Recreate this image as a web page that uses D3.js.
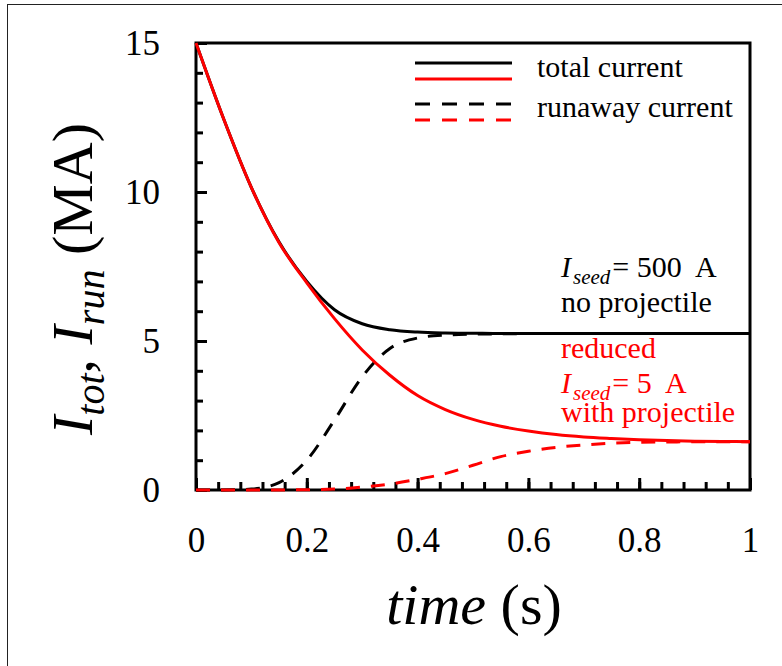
<!DOCTYPE html>
<html>
<head>
<meta charset="utf-8">
<script src="https://cdn.jsdelivr.net/npm/d3@7"></script>
<style>
  body { margin: 0; background: #fff; }
  svg { display: block; }
  text { font-family: "Liberation Serif", "Times New Roman", serif; }
</style>
</head>
<body>
<svg id="chart"></svg>
<script>
const width = 782, height = 666;
const margin = {top: 43, bottom: 176, left: 196, right: 32};
const serif = "Liberation Serif";

// time axis (s)
const time = [0, 0.05, 0.1, 0.15, 0.2, 0.25, 0.3, 0.35, 0.4, 0.45, 0.5,
              0.55, 0.6, 0.65, 0.7, 0.75, 0.8, 0.85, 0.9, 0.95, 1];
// I_seed = 500 A, no projectile (MA)
const totalNoProj = [15, 12.45, 10.15, 8.32, 7.0, 6.05, 5.58, 5.38, 5.3, 5.27, 5.26,
                     5.25, 5.25, 5.25, 5.25, 5.25, 5.25, 5.25, 5.25, 5.25, 5.25];
const runawayNoProj = [0, 0, 0.03, 0.25, 1.0, 2.35, 3.8, 4.75, 5.1, 5.2, 5.23,
                       5.24, 5.25, 5.25, 5.25, 5.25, 5.25, 5.25, 5.25, 5.25, 5.25];
// reduced I_seed = 5 A, with projectile (MA)
const totalProj = [15, 12.45, 10.15, 8.3, 6.95, 5.75, 4.7, 3.85, 3.17, 2.7, 2.37,
                   2.14, 1.98, 1.86, 1.78, 1.73, 1.69, 1.66, 1.64, 1.63, 1.62];
const runawayProj = [0, 0, 0, 0, 0.01, 0.03, 0.1, 0.2, 0.36, 0.55, 0.83,
                     1.12, 1.3, 1.43, 1.51, 1.57, 1.6, 1.61, 1.62, 1.62, 1.62];

const xTicks = [0, 0.2, 0.4, 0.6, 0.8, 1];
const yTicks = [0, 5, 10, 15];

const svg = d3.select("#chart")
    .attr("width", width)
    .attr("height", height);

// outer frame of the figure
svg.append("rect")
    .attr("x", 7.5).attr("y", 4.5)
    .attr("width", 800).attr("height", 700)
    .attr("fill", "none")
    .attr("stroke", "#222")
    .attr("stroke-width", 1);

const x = d3.scaleLinear().domain([0, 1]).range([margin.left, width - margin.right]);
const y = d3.scaleLinear().domain([0, 15]).range([height - margin.bottom, margin.top]);

// plot frame
svg.append("rect")
    .attr("x", x(0)).attr("y", y(15))
    .attr("width", x(1) - x(0)).attr("height", y(0) - y(15))
    .attr("fill", "none")
    .attr("stroke", "#000")
    .attr("stroke-width", 3);

// minor ticks
svg.append("g")
    .attr("transform", `translate(${x(0)},0)`)
    .call(d3.axisLeft(y).tickValues(d3.range(0, 16, 1)).tickSize(-7).tickFormat(""))
    .call(g => g.select(".domain").remove());
svg.append("g")
    .attr("transform", `translate(0,${y(0)})`)
    .call(d3.axisBottom(x).tickValues(d3.range(0, 1.001, 0.04)).tickSize(-8).tickFormat(""))
    .call(g => g.select(".domain").remove());

// major ticks + labels
const yAxis = svg.append("g")
    .attr("transform", `translate(${x(0)},0)`)
    .call(d3.axisLeft(y).tickValues(yTicks).tickSize(-11).tickPadding(36).tickFormat(d3.format("d")));
yAxis.select(".domain").remove();

const xAxis = svg.append("g")
    .attr("transform", `translate(0,${y(0)})`)
    .call(d3.axisBottom(x).tickValues(xTicks).tickSize(-12).tickPadding(37)
        .tickFormat(d => d === 0 || d === 1 ? d3.format("d")(d) : d3.format(".1f")(d)));
xAxis.select(".domain").remove();

svg.selectAll(".tick line").attr("stroke", "#000").attr("stroke-width", 3);
svg.selectAll(".tick text")
    .attr("fill", "#000")
    .attr("font-family", serif)
    .style("font-size", "35px");

// axis titles
svg.append("text")
    .attr("x", 474).attr("y", 624)
    .attr("text-anchor", "middle")
    .attr("font-family", serif)
    .style("font-size", "58px")
    .call(t => {
        t.append("tspan").style("font-style", "italic").text("time");
        t.append("tspan").text(" (s)");
    });

const yTitle = svg.append("text")
    .attr("transform", "translate(92,279) rotate(-90)")
    .attr("text-anchor", "middle")
    .attr("font-family", serif)
    .style("font-size", "58px");
yTitle.append("tspan").style("font-style", "italic").text("I");
yTitle.append("tspan").style("font-style", "italic").style("font-size", "40px").attr("dy", 12).text("tot");
yTitle.append("tspan").attr("dy", -12).text(", ");
yTitle.append("tspan").style("font-style", "italic").text("I");
yTitle.append("tspan").style("font-style", "italic").style("font-size", "40px").attr("dy", 12).text("run");
yTitle.append("tspan").attr("dy", -12).text(" (MA)");

// curves
const line = d3.line()
    .x(d => x(d.t))
    .y(d => y(d.v))
    .curve(d3.curveMonotoneX);

const series = [
    {values: totalNoProj, color: "#000", dash: null},
    {values: runawayNoProj, color: "#000", dash: "14,11"},
    {values: totalProj, color: "#ff0000", dash: null},
    {values: runawayProj, color: "#ff0000", dash: "14,11"}
];

series.forEach(s => {
    svg.append("path")
        .datum(time.map((t, i) => ({t: t, v: s.values[i]})))
        .attr("fill", "none")
        .attr("stroke", s.color)
        .attr("stroke-width", 3)
        .attr("stroke-dasharray", s.dash)
        .attr("d", line);
});

// legend
const legend = svg.append("g");
const legendRows = [
    {y: 63, color: "#000", dash: null},
    {y: 79, color: "#ff0000", dash: null},
    {y: 104, color: "#000", dash: "15,12"},
    {y: 120, color: "#ff0000", dash: "15,12"}
];
legendRows.forEach(r => {
    legend.append("line")
        .attr("x1", 415).attr("x2", 512)
        .attr("y1", r.y).attr("y2", r.y)
        .attr("stroke", r.color)
        .attr("stroke-width", 3)
        .attr("stroke-dasharray", r.dash);
});
legend.append("text").attr("x", 537).attr("y", 77)
    .attr("font-family", serif).style("font-size", "30px").text("total current");
legend.append("text").attr("x", 537).attr("y", 117)
    .attr("font-family", serif).style("font-size", "30px").text("runaway current");

// annotations
function seedLabel(yPos, value, color) {
    const t = svg.append("text").attr("x", 561).attr("y", yPos)
        .attr("fill", color).attr("font-family", serif).style("font-size", "30px");
    t.append("tspan").style("font-style", "italic").text("I");
    t.append("tspan").style("font-style", "italic").style("font-size", "21px")
        .attr("dx", 2).attr("dy", 7).text("seed");
    t.append("tspan").attr("dx", 2).attr("dy", -7).text("= " + value + "\u00a0 A");
}
function note(yPos, str, color) {
    svg.append("text").attr("x", 561).attr("y", yPos)
        .attr("fill", color).attr("font-family", serif).style("font-size", "30px").text(str);
}
seedLabel(277, "500", "#000");
note(312, "no projectile", "#000");
note(358, "reduced", "#ff0000");
seedLabel(393, "5", "#ff0000");
note(422, "with projectile", "#ff0000");
</script>
</body>
</html>
